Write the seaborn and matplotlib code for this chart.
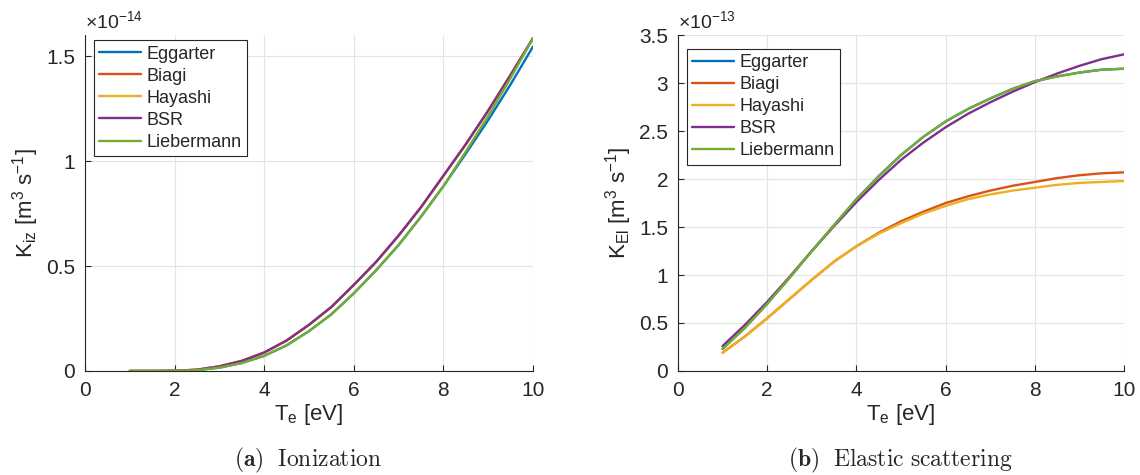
import numpy as np
import pandas as pd
import matplotlib
matplotlib.use("Agg")
import matplotlib.pyplot as plt
import seaborn as sns

# ---------------- data ----------------
Te = [1, 1.5, 2, 2.5, 3, 3.5, 4, 4.5, 5, 5.5, 6, 6.5, 7, 7.5, 8, 8.5, 9, 9.5, 10]
models = ["Eggarter", "Biagi", "Hayashi", "BSR", "Liebermann"]

# Ionization rate (x 1e-14 m^3 s^-1)
iz_eggarter = [0, 0, 0.0005, 0.004, 0.016, 0.038, 0.072, 0.122, 0.19, 0.27, 0.37, 0.48, 0.60, 0.735, 0.88, 1.035, 1.195, 1.365, 1.545]
iz_biagi = [0, 0, 0.001, 0.006, 0.022, 0.048, 0.088, 0.145, 0.22, 0.305, 0.41, 0.52, 0.645, 0.78, 0.93, 1.08, 1.24, 1.41, 1.585]
iz_hayashi = [0, 0, 0.001, 0.006, 0.022, 0.048, 0.088, 0.145, 0.22, 0.305, 0.41, 0.52, 0.645, 0.78, 0.93, 1.08, 1.24, 1.41, 1.585]
iz_bsr = [0, 0, 0.001, 0.006, 0.022, 0.048, 0.088, 0.145, 0.22, 0.305, 0.41, 0.52, 0.645, 0.78, 0.93, 1.08, 1.24, 1.41, 1.585]
iz_liebermann = [0, 0, 0.0005, 0.004, 0.016, 0.038, 0.072, 0.122, 0.19, 0.27, 0.37, 0.48, 0.60, 0.735, 0.88, 1.045, 1.215, 1.395, 1.585]

# Elastic scattering rate (x 1e-13 m^3 s^-1)
el_eggarter = [0.23, 0.45, 0.70, 0.97, 1.25, 1.52, 1.79, 2.03, 2.25, 2.44, 2.60, 2.73, 2.84, 2.94, 3.02, 3.07, 3.11, 3.14, 3.15]
el_biagi = [0.19, 0.36, 0.55, 0.75, 0.95, 1.14, 1.30, 1.44, 1.56, 1.66, 1.75, 1.82, 1.88, 1.93, 1.97, 2.01, 2.04, 2.06, 2.07]
el_hayashi = [0.19, 0.36, 0.55, 0.75, 0.95, 1.14, 1.30, 1.43, 1.54, 1.64, 1.72, 1.79, 1.84, 1.88, 1.91, 1.94, 1.96, 1.97, 1.98]
el_bsr = [0.26, 0.48, 0.72, 0.98, 1.25, 1.51, 1.76, 1.99, 2.20, 2.38, 2.54, 2.68, 2.80, 2.91, 3.01, 3.10, 3.18, 3.25, 3.30]
el_liebermann = [0.23, 0.45, 0.70, 0.97, 1.25, 1.52, 1.79, 2.03, 2.25, 2.44, 2.60, 2.73, 2.84, 2.94, 3.02, 3.07, 3.11, 3.14, 3.15]

colors = ["#0072BD", "#D95319", "#EDB120", "#7E2F8E", "#77AC30"]


def long_df(series):
    rows = []
    for name, vals in zip(models, series):
        for x, y in zip(Te, vals):
            rows.append({"Te": x, "K": y, "model": name})
    return pd.DataFrame(rows)


df_iz = long_df([iz_eggarter, iz_biagi, iz_hayashi, iz_bsr, iz_liebermann])
df_el = long_df([el_eggarter, el_biagi, el_hayashi, el_bsr, el_liebermann])

# ---------------- style ----------------
sns.set_theme(style="whitegrid")
plt.rcParams["font.family"] = ["Liberation Sans", "DejaVu Sans"]
plt.rcParams["mathtext.fontset"] = "custom"
plt.rcParams["mathtext.rm"] = "Liberation Sans"
plt.rcParams["mathtext.it"] = "Liberation Sans"
plt.rcParams["mathtext.bf"] = "Liberation Sans:bold"

fig = plt.figure(figsize=(11.4, 4.75), dpi=100)
ax1 = fig.add_axes([0.0746, 0.219, 0.3929, 0.707])
ax2 = fig.add_axes([0.5947, 0.219, 0.3913, 0.707])

panels = [
    (ax1, df_iz, 1.6, [0, 0.5, 1, 1.5], ["0", "0.5", "1", "1.5"],
     r"K$_{\mathregular{iz}}$ [m$^{\mathregular{3}}$ s$^{\mathregular{-1}}$]", r"$\times$10$^{\mathregular{-14}}$",
     (0.02, 0.985)),
    (ax2, df_el, 3.5, [0, 0.5, 1, 1.5, 2, 2.5, 3, 3.5], ["0", "0.5", "1", "1.5", "2", "2.5", "3", "3.5"],
     r"K$_{\mathregular{El}}$ [m$^{\mathregular{3}}$ s$^{\mathregular{-1}}$]", r"$\times$10$^{\mathregular{-13}}$",
     (0.02, 0.96)),
]

for ax, df, ytop, yt, ytl, ylab, mult, legpos in panels:
    sns.lineplot(data=df, x="Te", y="K", hue="model", hue_order=models,
                 palette=colors, linewidth=1.7, ax=ax, sort=True, estimator=None)
    ax.set_xlim(0, 10)
    ax.set_ylim(0, ytop)
    ax.set_xticks([0, 2, 4, 6, 8, 10])
    ax.set_xticklabels(["0", "2", "4", "6", "8", "10"])
    ax.set_yticks(yt)
    ax.set_yticklabels(ytl)
    ax.grid(True, color="#e3e3e3", linewidth=0.8)
    ax.set_facecolor("white")
    for s in ["top", "right"]:
        ax.spines[s].set_visible(False)
    for s in ["left", "bottom"]:
        ax.spines[s].set_color("#262626")
        ax.spines[s].set_linewidth(0.8)
    ax.tick_params(axis="both", direction="in", length=4, width=0.8,
                   colors="#262626", labelsize=15, pad=7,
                   bottom=True, left=True)
    ax.set_xlabel(r"T$_{\mathregular{e}}$ [eV]", fontsize=16, color="#262626", labelpad=2)
    ax.set_ylabel(ylab, fontsize=16, color="#262626", labelpad=4)
    ax.text(0.0, 1.01, mult, transform=ax.transAxes, fontsize=14,
            color="#262626", ha="left", va="bottom")
    leg = ax.legend(loc="upper left", bbox_to_anchor=legpos,
                    fontsize=13, frameon=True, fancybox=False,
                    handlelength=2.3, handletextpad=0.3, labelspacing=0.28,
                    borderpad=0.3, borderaxespad=0.0)
    leg.get_frame().set_edgecolor("#262626")
    leg.get_frame().set_linewidth(0.8)
    leg.get_frame().set_alpha(1)

fig.text(0.270, 0.030, r"$\mathbf{(a)}\ \ \mathrm{Ionization}$", ha="center", va="center",
         fontsize=17, math_fontfamily="cm")
fig.text(0.790, 0.030, r"$\mathbf{(b)}\ \ \mathrm{Elastic\ scattering}$", ha="center", va="center",
         fontsize=17, math_fontfamily="cm")

fig.savefig("out.png", dpi=100)
